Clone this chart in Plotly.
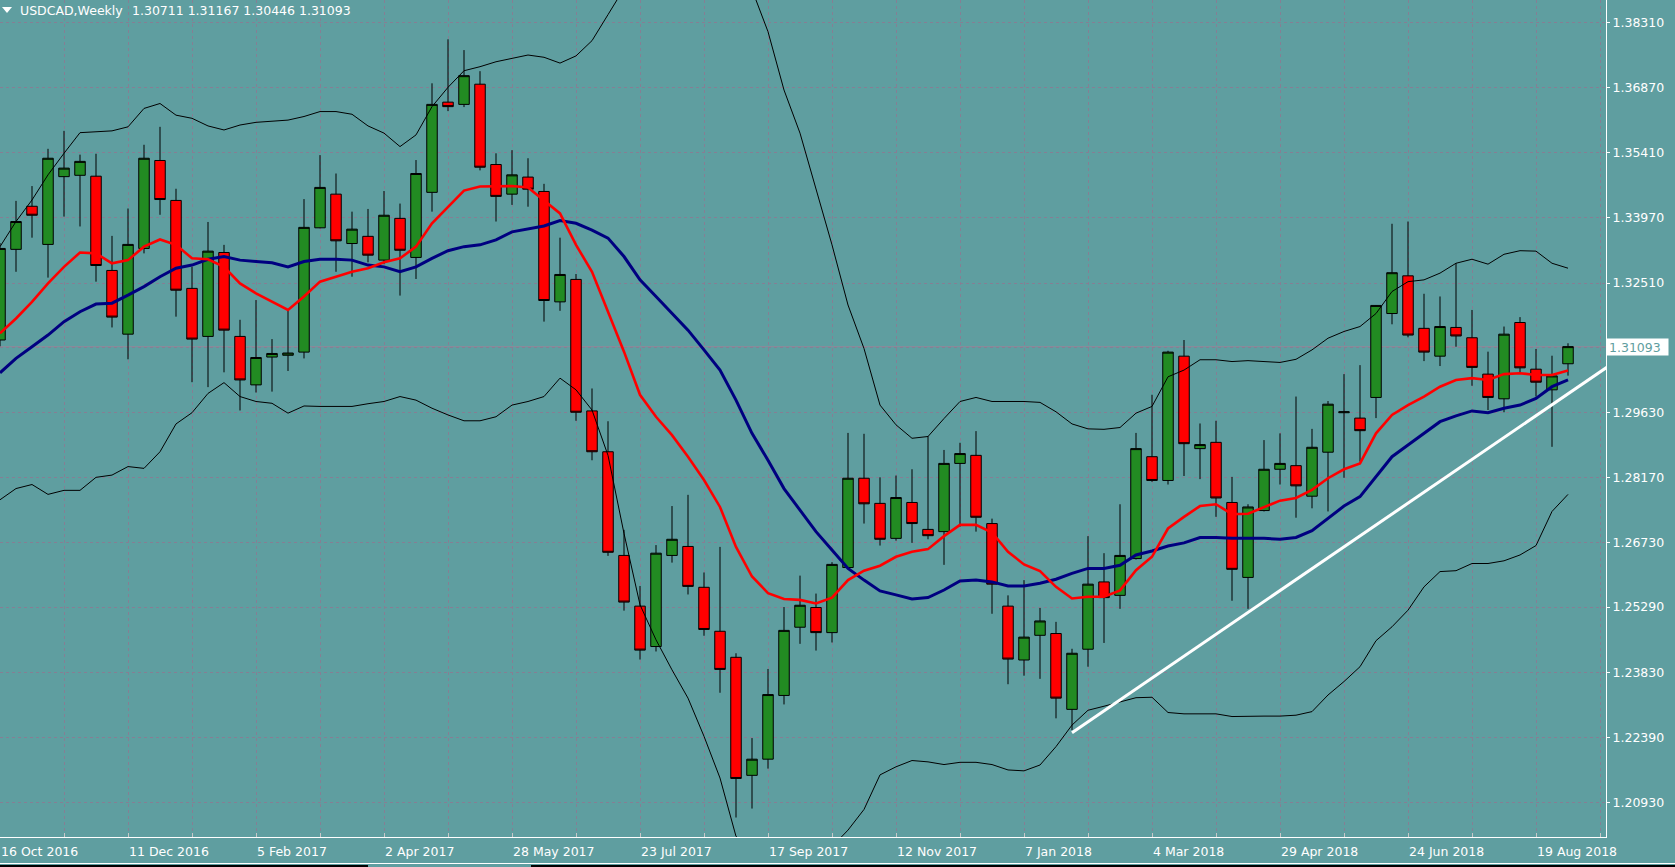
import pandas as pd
import plotly.graph_objects as go

# ---------------- data ----------------
symbol = "USDCAD,Weekly"
last_bar_text = ["1.30711", "1.31167", "1.30446", "1.31093"]
first_week = "2016-10-16"

opens = [1.3124, 1.3326, 1.3422, 1.3337, 1.3488, 1.3491, 1.3489, 1.3279, 1.3137, 1.3328,
         1.3524, 1.3435, 1.3239, 1.3132, 1.3319, 1.3132, 1.3024, 1.3086, 1.3090, 1.3097,
         1.3374, 1.3449, 1.3339, 1.3355, 1.3302, 1.3395, 1.3308, 1.3453, 1.3654, 1.3649,
         1.3694, 1.3515, 1.3449, 1.3487, 1.3455, 1.3209, 1.3259, 1.2966, 1.2875, 1.2644,
         1.2531, 1.2441, 1.2644, 1.2664, 1.2573, 1.2475, 1.2417, 1.2154, 1.2190, 1.2332,
         1.2484, 1.2528, 1.2472, 1.2617, 1.2816, 1.2760, 1.2682, 1.2762, 1.2702, 1.2697,
         1.2849, 1.2867, 1.2715, 1.2531, 1.2411, 1.2466, 1.2470, 1.2301, 1.2435, 1.2585,
         1.2555, 1.2637, 1.2864, 1.2811, 1.3088, 1.2882, 1.2896, 1.2762, 1.2595, 1.2744,
         1.2836, 1.2844, 1.2776, 1.2874, 1.2962, 1.2950, 1.2996, 1.3183, 1.3267, 1.3150,
         1.3088, 1.3152, 1.3129, 1.3048, 1.2993, 1.3163, 1.3059, 1.3013, 1.30711]

highs = [1.3340, 1.3434, 1.3467, 1.3550, 1.3590, 1.3537, 1.3539, 1.3356, 1.3417, 1.3559,
         1.3599, 1.3461, 1.3287, 1.3387, 1.3336, 1.3169, 1.3213, 1.3126, 1.3191, 1.3438,
         1.3536, 1.3495, 1.3410, 1.3416, 1.3456, 1.3428, 1.3525, 1.3696, 1.3794, 1.3770,
         1.3723, 1.3540, 1.3547, 1.3529, 1.3472, 1.3352, 1.3271, 1.3016, 1.2943, 1.2701,
         1.2576, 1.2667, 1.2754, 1.2779, 1.2606, 1.2663, 1.2426, 1.2237, 1.2391, 1.2529,
         1.2599, 1.2559, 1.2629, 1.2917, 1.2915, 1.2818, 1.2822, 1.2836, 1.2910, 1.2879,
         1.2895, 1.2921, 1.2726, 1.2555, 1.2589, 1.2527, 1.2496, 1.2436, 1.2687, 1.2649,
         1.2758, 1.2917, 1.3002, 1.3100, 1.3124, 1.2938, 1.2944, 1.2819, 1.2758, 1.2901,
         1.2916, 1.2998, 1.2926, 1.2988, 1.3048, 1.3068, 1.3202, 1.3383, 1.3388, 1.3227,
         1.3221, 1.3295, 1.3191, 1.3098, 1.3154, 1.3175, 1.3104, 1.3089, 1.31167]

lows = [1.3110, 1.3276, 1.3352, 1.3263, 1.3399, 1.3377, 1.3254, 1.3152, 1.3081, 1.3317,
        1.3403, 1.3176, 1.3030, 1.3019, 1.3052, 1.2967, 1.3007, 1.3009, 1.3055, 1.3083,
        1.3373, 1.3276, 1.3265, 1.3297, 1.3293, 1.3223, 1.3260, 1.3410, 1.3634, 1.3643,
        1.3502, 1.3388, 1.3425, 1.3421, 1.3165, 1.3189, 1.2944, 1.2856, 1.2643, 1.2521,
        1.2412, 1.2430, 1.2628, 1.2557, 1.2465, 1.2338, 1.2060, 1.2080, 1.2169, 1.2312,
        1.2447, 1.2432, 1.2450, 1.2615, 1.2715, 1.2666, 1.2677, 1.2672, 1.2680, 1.2623,
        1.2708, 1.2697, 1.2514, 1.2357, 1.2376, 1.2369, 1.2281, 1.2255, 1.2396, 1.2449,
        1.2525, 1.2635, 1.2808, 1.2802, 1.2821, 1.2814, 1.2730, 1.2543, 1.2525, 1.2742,
        1.2802, 1.2728, 1.2749, 1.2742, 1.2817, 1.2853, 1.2950, 1.3159, 1.3130, 1.3077,
        1.3066, 1.3109, 1.3022, 1.2968, 1.2963, 1.3050, 1.2998, 1.2886, 1.30446]

closes = [1.3328, 1.3388, 1.3402, 1.3529, 1.3507, 1.3522, 1.3290, 1.3175, 1.3337, 1.3529,
          1.3437, 1.3235, 1.3126, 1.3322, 1.3146, 1.3035, 1.3085, 1.3094, 1.3095, 1.3375,
          1.3464, 1.3345, 1.3371, 1.3313, 1.3402, 1.3324, 1.3495, 1.3649, 1.3644, 1.3713,
          1.3509, 1.3444, 1.3492, 1.3460, 1.3212, 1.3270, 1.2963, 1.2875, 1.2651, 1.2540,
          1.2433, 1.2649, 1.2680, 1.2575, 1.2479, 1.2390, 1.2147, 1.2190, 1.2334, 1.2477,
          1.2533, 1.2472, 1.2624, 1.2816, 1.2759, 1.2680, 1.2773, 1.2715, 1.2688, 1.2849,
          1.2871, 1.2729, 1.2580, 1.2413, 1.2462, 1.2498, 1.2326, 1.2426, 1.2580, 1.2550,
          1.2644, 1.2882, 1.2811, 1.3097, 1.2893, 1.2891, 1.2772, 1.2613, 1.2752, 1.2836,
          1.2849, 1.2799, 1.2885, 1.2981, 1.2964, 1.2922, 1.3201, 1.3274, 1.3135, 1.3097,
          1.3154, 1.3133, 1.3063, 1.2996, 1.3137, 1.3062, 1.3030, 1.3044, 1.31093]

ma_fast = [1.3139, 1.3172, 1.3209, 1.3250, 1.3287, 1.3319, 1.3317, 1.3295, 1.3302, 1.3332,
           1.3348, 1.3336, 1.3306, 1.3304, 1.3287, 1.3250, 1.3228, 1.3209, 1.3191, 1.3221,
           1.3254, 1.3265, 1.3276, 1.3284, 1.3297, 1.3306, 1.3332, 1.3384, 1.3421, 1.3457,
           1.3466, 1.3466, 1.3467, 1.3464, 1.3436, 1.3406, 1.3336, 1.3276, 1.3187, 1.3098,
           1.3002, 1.2953, 1.2912, 1.2864, 1.2812, 1.2752, 1.2663, 1.2597, 1.2560, 1.2547,
           1.2545, 1.2537, 1.2550, 1.2589, 1.2610, 1.2621, 1.2641, 1.2652, 1.2658, 1.2687,
           1.2712, 1.2712, 1.2695, 1.2652, 1.2624, 1.2609, 1.2574, 1.2548, 1.2552, 1.2552,
           1.2566, 1.2611, 1.2641, 1.2704, 1.2730, 1.2754, 1.2758, 1.2736, 1.2737, 1.2752,
           1.2766, 1.2772, 1.2790, 1.2816, 1.2836, 1.2849, 1.2916, 1.2957, 1.2979, 1.2998,
           1.3020, 1.3035, 1.3039, 1.3035, 1.3048, 1.3050, 1.3046, 1.3046, 1.3056]

ma_slow = [1.3051, 1.3083, 1.3109, 1.3135, 1.3165, 1.3187, 1.3204, 1.3206, 1.3224, 1.3243,
           1.3265, 1.3284, 1.3291, 1.3304, 1.3310, 1.3302, 1.3299, 1.3296, 1.3287, 1.3299,
           1.3304, 1.3304, 1.3302, 1.3291, 1.3287, 1.3276, 1.3287, 1.3306, 1.3323, 1.3332,
           1.3336, 1.3347, 1.3365, 1.3371, 1.3378, 1.3390, 1.3384, 1.3369, 1.3351, 1.3310,
           1.3258, 1.3221, 1.3183, 1.3146, 1.3102, 1.3057, 1.2990, 1.2916, 1.2856, 1.2793,
           1.2745, 1.2697, 1.2656, 1.2615, 1.2589, 1.2565, 1.2556, 1.2547, 1.2550, 1.2567,
           1.2587, 1.2589, 1.2585, 1.2576, 1.2576, 1.2582, 1.2591, 1.2604, 1.2615, 1.2615,
           1.2622, 1.2645, 1.2654, 1.2665, 1.2672, 1.2684, 1.2684, 1.2682, 1.2682, 1.2682,
           1.2680, 1.2684, 1.2699, 1.2727, 1.2754, 1.2775, 1.2819, 1.2864, 1.2890, 1.2916,
           1.2942, 1.2955, 1.2966, 1.2962, 1.2972, 1.2979, 1.2994, 1.3020, 1.3035]

bb_upper = [1.3332, 1.3388, 1.3436, 1.3492, 1.3540, 1.3586, 1.3588, 1.3590, 1.3599, 1.3640,
            1.3651, 1.3625, 1.3618, 1.3601, 1.3592, 1.3603, 1.3609, 1.3611, 1.3614, 1.3622,
            1.3633, 1.3633, 1.3627, 1.3601, 1.3585, 1.3555, 1.3581, 1.3644, 1.3687, 1.3724,
            1.3733, 1.3744, 1.3752, 1.3759, 1.3754, 1.3741, 1.3757, 1.3791, 1.3849, 1.3907,
            1.3950, 1.3975, 1.3990, 1.3990, 1.3975, 1.3955, 1.3930, 1.3905, 1.3811, 1.3681,
            1.3585, 1.3462, 1.3336, 1.3202, 1.3105, 1.2979, 1.2935, 1.2905, 1.2909, 1.2949,
            1.2987, 1.2996, 1.2987, 1.2987, 1.2987, 1.2985, 1.2964, 1.2937, 1.2926, 1.2925,
            1.2929, 1.2961, 1.2976, 1.3042, 1.3057, 1.3080, 1.3080, 1.3076, 1.3078, 1.3076,
            1.3074, 1.3081, 1.3102, 1.3128, 1.3143, 1.3154, 1.3183, 1.3232, 1.3254, 1.3258,
            1.3273, 1.3295, 1.3304, 1.3293, 1.3315, 1.3323, 1.3322, 1.3295, 1.3284]

bb_lower = [1.2768, 1.2793, 1.2802, 1.2780, 1.2789, 1.2789, 1.2818, 1.2823, 1.2842, 1.2838,
            1.2875, 1.2937, 1.2962, 1.3005, 1.3029, 1.2998, 1.2987, 1.2983, 1.2961, 1.2977,
            1.2976, 1.2976, 1.2976, 1.2982, 1.2987, 1.2998, 1.2990, 1.2972, 1.2957, 1.2944,
            1.2944, 1.2953, 1.2979, 1.2987, 1.2998, 1.3039, 1.3013, 1.2968, 1.2867, 1.2693,
            1.2534, 1.2456, 1.2389, 1.2326, 1.2241, 1.2148, 1.2018, 1.1990, 1.1975, 1.1965,
            1.1960, 1.1970, 1.1995, 1.2032, 1.2078, 1.2155, 1.2173, 1.2187, 1.2184, 1.2178,
            1.2183, 1.2183, 1.2178, 1.2166, 1.2164, 1.2177, 1.2218, 1.2266, 1.2299, 1.2308,
            1.2318, 1.2327, 1.2328, 1.2294, 1.2291, 1.2291, 1.2291, 1.2285, 1.2286, 1.2286,
            1.2286, 1.2288, 1.2296, 1.2333, 1.2363, 1.2396, 1.2454, 1.2485, 1.2522, 1.2574,
            1.2608, 1.2610, 1.2626, 1.2626, 1.2632, 1.2645, 1.2666, 1.2742, 1.2780]

trend_bar = [67.0, 100.5]
trend_price = [1.2249, 1.3065]

price_ticks = [1.20930, 1.22390, 1.23830, 1.25290, 1.26730, 1.28170, 1.29630,
               1.31070, 1.32510, 1.33970, 1.35410, 1.36870, 1.38310]
price_labels = ["1.20930", "1.22390", "1.23830", "1.25290", "1.26730", "1.28170", "1.29630",
                "", "1.32510", "1.33970", "1.35410", "1.36870", "1.38310"]
bid_price = 1.31093

# ---------------- styling ----------------
BG = "#5F9EA0"
GRID = "#857f94"
FONT = "DejaVu Sans"
FS = 12.5
W, H = 1675, 867
ML, MR, MT, MB = 0, 69, 0, 30
PW, PH = W - ML - MR, H - MT - MB

n = len(opens)
x = list(range(n))
start = pd.Timestamp(first_week)
tick_idx = list(range(0, 101, 4))
tick_txt = [(start + pd.Timedelta(weeks=k)).strftime("%-d %b %Y") if k % 8 == 0 else ""
            for k in tick_idx]

fig = go.Figure()

fig.add_trace(go.Scatter(x=x, y=bb_upper, mode="lines",
                         line=dict(color="black", width=1), hoverinfo="skip"))
fig.add_trace(go.Scatter(x=x, y=bb_lower, mode="lines",
                         line=dict(color="black", width=1), hoverinfo="skip"))

fig.add_trace(go.Candlestick(
    x=x, open=opens, high=highs, low=lows, close=closes,
    increasing=dict(fillcolor="#228B22", line=dict(color="black", width=1)),
    decreasing=dict(fillcolor="#FF0000", line=dict(color="black", width=1)),
    whiskerwidth=0, hoverinfo="skip"))

fig.add_trace(go.Scatter(x=x, y=ma_slow, mode="lines",
                         line=dict(color="#000080", width=3), hoverinfo="skip"))
fig.add_trace(go.Scatter(x=x, y=ma_fast, mode="lines",
                         line=dict(color="#FF0000", width=2.6), hoverinfo="skip"))
fig.add_trace(go.Scatter(x=trend_bar, y=trend_price, mode="lines",
                         line=dict(color="white", width=3), hoverinfo="skip"))

# bid line
fig.add_shape(type="line", xref="paper", x0=0, x1=1, yref="y", y0=bid_price, y1=bid_price,
              line=dict(color="#8a8a9a", width=1), layer="below")


def px(xp):
    return xp / PW


def py(yp):
    return 1 - yp / PH


# small menu triangle left of the title
fig.add_shape(type="path", xref="paper", yref="paper",
              path=f"M {px(2)},{py(7)} L {px(12)},{py(7)} L {px(7)},{py(13)} Z",
              fillcolor="white", line=dict(width=0))

# bottom strip (tab bar edge)
fig.add_shape(type="line", xref="paper", yref="paper", x0=0, x1=px(W), y0=py(863.5), y1=py(863.5),
              line=dict(color="white", width=1))
fig.add_shape(type="rect", xref="paper", yref="paper", x0=0, x1=px(368), y0=py(865), y1=py(867),
              fillcolor="black", line=dict(width=0))
fig.add_shape(type="rect", xref="paper", yref="paper", x0=px(531), x1=px(W), y0=py(865), y1=py(867),
              fillcolor="black", line=dict(width=0))

fig.add_annotation(xref="paper", yref="paper", x=px(18), y=py(11), xanchor="left", yanchor="middle",
                   text=symbol, showarrow=False, font=dict(family=FONT, size=FS, color="white"))
fig.add_annotation(xref="paper", yref="paper", x=px(130), y=py(11), xanchor="left", yanchor="middle",
                   text=" ".join(last_bar_text), showarrow=False,
                   font=dict(family=FONT, size=FS, color="white"))

# current price box on the price scale
fig.add_annotation(xref="paper", x=1, xanchor="left", yref="y", y=bid_price, yanchor="middle",
                   text=f"{bid_price:.5f}", showarrow=False, bgcolor="white",
                   font=dict(family=FONT, size=FS, color=BG), borderpad=2, width=57, height=12,
                   align="left")

fig.update_layout(
    template="none",
    width=W, height=H,
    margin=dict(l=ML, r=MR, t=MT, b=MB, pad=0),
    paper_bgcolor=BG, plot_bgcolor=BG,
    showlegend=False, hovermode=False,
    boxgap=0.2, boxgroupgap=0.18,
    font=dict(family=FONT, size=FS, color="white"),
    xaxis=dict(range=[0, PW / 16.0], tickmode="array", tickvals=tick_idx, ticktext=tick_txt,
               showgrid=True, gridcolor=GRID, griddash="3px,3px", gridwidth=1,
               ticks="inside", ticklen=4, tickcolor="#c8c8c8", ticklabelposition="outside right",
               tickfont=dict(family=FONT, size=FS, color="white"), ticklabelstandoff=3,
               showline=True, linecolor="white", linewidth=1, zeroline=False,
               rangeslider=dict(visible=False), automargin=False, fixedrange=True),
    yaxis=dict(side="right", range=[1.20166, 1.38816], tickmode="array",
               tickvals=price_ticks, ticktext=price_labels,
               showgrid=True, gridcolor=GRID, griddash="3px,3px", gridwidth=1,
               ticks="outside", ticklen=3, tickcolor="white",
               tickfont=dict(family=FONT, size=FS, color="white"),
               showline=True, linecolor="white", linewidth=1, zeroline=False,
               automargin=False, fixedrange=True),
)

fig.write_html("out.html", config={"displayModeBar": False},
               post_script="document.body.style.margin='0';document.body.style.background='" + BG + "';")
